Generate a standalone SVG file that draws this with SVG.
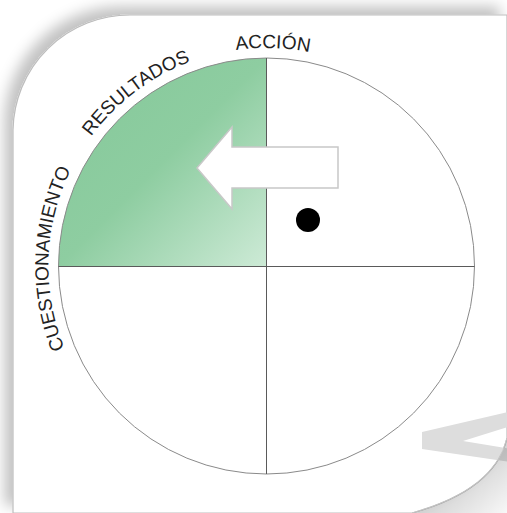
<svg xmlns="http://www.w3.org/2000/svg" xmlns:xlink="http://www.w3.org/1999/xlink" width="507" height="513" viewBox="0 0 507 513">
<style>
.lbl{font-family:"Liberation Sans",Arial,Helvetica,sans-serif;font-size:19px;fill:#222222;}
.ring{fill:none;stroke:#8a8a8a;stroke-width:1;}
.axis{stroke:#5a5a5a;stroke-width:1;}
</style>
<defs>
<filter id="pageShadow" x="-10%" y="-10%" width="120%" height="120%">
<feGaussianBlur in="SourceAlpha" stdDeviation="7"/>
<feOffset dx="-8" dy="-8" result="b"/>
<feFlood flood-color="#000" flood-opacity="0.24"/>
<feComposite in2="b" operator="in" result="s"/>
<feMerge><feMergeNode in="s"/><feMergeNode in="SourceGraphic"/></feMerge>
</filter>
<linearGradient id="green" x1="0" y1="0" x2="1" y2="1">
<stop offset="0" stop-color="#84c899"/>
<stop offset="0.5" stop-color="#8ecda1"/>
<stop offset="1" stop-color="#cdead6"/>
</linearGradient>
<linearGradient id="curlShade" gradientUnits="userSpaceOnUse" x1="470" y1="470" x2="507" y2="513">
<stop offset="0" stop-color="#000" stop-opacity="0.17"/>
<stop offset="1" stop-color="#000" stop-opacity="0.03"/>
</linearGradient>
<path id="arcPath" d="M266.5,484 A218,218 0 1 1 266.5,48 A218,218 0 1 1 266.5,484"/>
</defs>
<rect width="507" height="513" fill="#ffffff"/>
<g id="page">
<path d="M13,130 A117,117 0 0 1 130,15 L507,15 L507,438 Q495,490 412,513 L13,513 Z" fill="#ffffff" stroke="#bdbdbd" stroke-width="1.2" filter="url(#pageShadow)"/>
</g>
<g id="watermark">
<polygon points="422,432 530,407 530,420 463,441 530,452 530,465 422,449" fill="#dddddd"/>
<path d="M507,438 Q495,490 412,513 L507,513 Z" fill="url(#curlShade)"/>
<path d="M507,438 Q495,490 412,513" fill="none" stroke="#c4c4c4" stroke-width="1"/>
</g>
<g id="quadrant-cuestionamiento">
<path d="M266.5,266 L58.5,266 A208,208 0 0 1 266.5,58 Z" fill="url(#green)"/>
</g>
<g id="circle">
<circle cx="266.5" cy="266" r="208" class="ring"/>
</g>
<g id="connectors">
<line x1="58.5" y1="266.5" x2="474.5" y2="266.5" class="axis"/>
<line x1="266.5" y1="58" x2="266.5" y2="474" class="axis"/>
</g>
<g id="arrow">
<path d="M197,168 L232,127 L232,147 L338,147 L338,188 L232,188 L232,209 Z" fill="#ffffff" stroke="#c8c8c8" stroke-width="1.5" stroke-linejoin="miter"/>
</g>
<g id="dot">
<circle cx="308" cy="220" r="12" fill="#000000"/>
</g>
<g id="labels">
<text class="lbl" text-anchor="middle"><textPath href="#arcPath" xlink:href="#arcPath" startOffset="350">CUESTIONAMIENTO</textPath></text>
<text class="lbl" text-anchor="middle"><textPath href="#arcPath" xlink:href="#arcPath" startOffset="544">RESULTADOS</textPath></text>
<text class="lbl" text-anchor="middle"><textPath href="#arcPath" xlink:href="#arcPath" startOffset="691">ACCIÓN</textPath></text>
</g>
</svg>
